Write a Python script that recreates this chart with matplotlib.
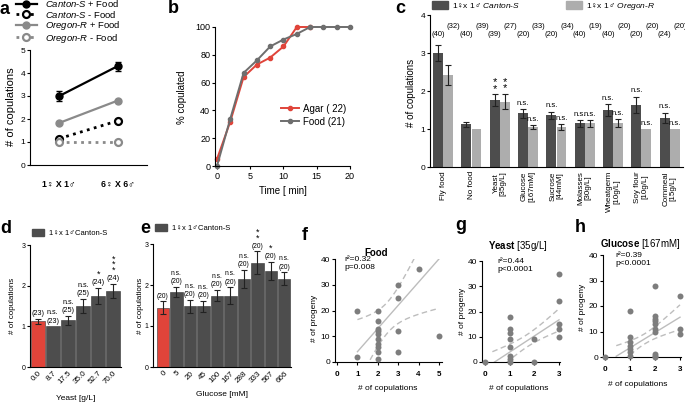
import numpy as np
import matplotlib
matplotlib.use('Agg')
import matplotlib.pyplot as plt
from matplotlib.lines import Line2D
from matplotlib.patches import Patch

plt.rcParams['font.family'] = ['Liberation Sans', 'DejaVu Sans']
plt.rcParams['mathtext.fontset'] = 'custom'
plt.rcParams['mathtext.rm'] = 'Liberation Sans'
plt.rcParams['mathtext.it'] = 'Liberation Sans:italic'
plt.rcParams['mathtext.bf'] = 'Liberation Sans:bold'
plt.rcParams['axes.linewidth'] = 0.8
plt.rcParams['xtick.major.size'] = 2.5
plt.rcParams['ytick.major.size'] = 2.5
plt.rcParams['xtick.major.width'] = 0.8
plt.rcParams['ytick.major.width'] = 0.8
plt.rcParams['xtick.major.pad'] = 1.5
plt.rcParams['ytick.major.pad'] = 1.0

# ---- data ----
# a: copulations per pairing
a_pairs = ['1♀ X 1♂', '6♀ X 6♂']
cs_food = [3.0, 4.3]
cs_food_err = [0.2, 0.2]
cs_nofood = [1.15, 1.92]
cs_nofood_err = [0.05, 0.05]
or_food = [1.83, 2.8]
or_food_err = [0.05, 0.05]
or_nofood = [1.0, 1.0]
or_nofood_err = [0.0, 0.0]

# b: % copulated over time
b_time = [0, 2, 4, 6, 8, 10, 12, 14, 16, 18, 20]
b_agar = [5, 32, 64, 73, 78, 86, 100, 100]
b_food = [0, 34, 67, 76, 86, 91, 95, 100, 100, 100, 100]

# c: food substrates
c_labels = ['Fly food', 'No food', 'Yeast\n[35g/L]', 'Glucose\n[167mM]', 'Sucrose\n[44mM]',
            'Molasses\n[30g/L]', 'Wheatgerm\n[10g/L]', 'Soy flour\n[10g/L]', 'Cornmeal\n[15g/L]']
c_cs = [3.0, 1.12, 1.76, 1.41, 1.36, 1.15, 1.49, 1.64, 1.29]
c_cs_err = [0.22, 0.07, 0.15, 0.11, 0.1, 0.09, 0.16, 0.21, 0.14]
c_or = [2.43, 1.0, 1.72, 1.05, 1.05, 1.15, 1.15, 1.0, 1.0]
c_or_err = [0.26, np.nan, 0.2, 0.05, 0.07, 0.09, 0.11, np.nan, np.nan]
c_cs_n = [40, 40, 39, 20, 20, 40, 40, 20, 24]
c_or_n = [32, 39, 27, 33, 34, 19, 20, 20, 20]
c_cs_sig = ['', '', '*\n*', 'n.s.', 'n.s.', 'n.s.', 'n.s.', 'n.s.', 'n.s.']
c_or_sig = ['', '', '*\n*', 'n.s.', 'n.s.', 'n.s.', 'n.s.', 'n.s.', 'n.s.']

# d: yeast concentration
d_labels = ['0.0', '8.7', '17.5', '35.0', '52.7', '70.0']
d_vals = [1.12, 1.0, 1.15, 1.5, 1.75, 1.87]
d_err = [0.07, np.nan, 0.11, 0.17, 0.19, 0.18]
d_n = [23, 23, 25, 25, 24, 24]
d_sig = ['', 'n.s.', 'n.s.', 'n.s.', '*', '*\n*\n*']

# e: glucose concentration
e_labels = ['0', '5', '20', '45', '100', '167', '288', '333', '567', '666']
e_vals = [1.45, 1.83, 1.48, 1.48, 1.74, 1.74, 2.15, 2.54, 2.34, 2.15]
e_err = [0.15, 0.12, 0.16, 0.13, 0.14, 0.2, 0.22, 0.28, 0.22, 0.16]
e_n = [20, 20, 20, 20, 20, 20, 20, 20, 20, 20]
e_sig = ['', 'n.s.', 'n.s.', 'n.s.', 'n.s.', 'n.s.', 'n.s.', '*\n*', '*', 'n.s.']

# f-h: progeny vs copulations
f_x = [1, 1, 2, 2, 2, 2, 2, 2, 2, 2, 2, 2, 3, 3, 3, 3, 4, 5]
f_y = [20, 2, 20, 16, 13, 12, 11, 9, 7, 6, 4, 1, 30, 25, 12, 4, 36, 10]
g_x = [0, 1, 1, 1, 1, 1, 1, 1, 1, 2, 2, 3, 3, 3, 3, 3]
g_y = [0, 18, 13, 11.5, 9, 6, 2.5, 1, 0, 9, 0, 35, 24, 15, 13, 10]
h_x = [0, 1, 1, 1, 1, 1, 1, 1, 2, 2, 2, 2, 2, 2, 2, 2, 2, 2, 3, 3, 3]
h_y = [0, 18, 8, 6, 4.5, 3, 2, 0.5, 28, 16, 15, 14, 13, 11, 10, 1, 0.5, 0, 24, 11, 9]
# linear fit: intercept, slope, x mean, band c0, band c1, x range
f_fit = [-5.0, 9.0, 2.5, 36.0, 53.0, 1.0, 5.0]
g_fit = [-2.5, 6.4, 1.7, 6.0, 8.0, 0.3, 3.0]
h_fit = [-2.4, 6.0, 1.6, 4.0, 10.0, 0.45, 3.0]
f_stats = 'r²=0.32\np=0.008'
g_stats = 'r²=0.44\np<0.0001'
h_stats = 'r²=0.39\np<0.0001'

W, H = 685, 405
fig = plt.figure(figsize=(6.85, 4.05), dpi=100)

DARK = '#4d4d4d'
LIGHT = '#adadad'
RED = '#e0443a'
PT = '#7d7d7d'
FIT = '#bdbdbd'


def add_ax(x0, y0, x1, y1):
    ax = fig.add_axes([x0 / W, 1 - y1 / H, (x1 - x0) / W, (y1 - y0) / H])
    ax.spines['top'].set_visible(False)
    ax.spines['right'].set_visible(False)
    return ax


def ftext(x, y, s, **kw):
    return fig.text(x / W, 1 - y / H, s, **kw)


def letter(x, y, s):
    ftext(x, y, s, fontsize=13, fontweight='bold', va='baseline', ha='left')


# ---- a ----
ax = add_ax(30, 50, 147, 165)
xa = np.arange(2)
ax.errorbar(xa, cs_food, yerr=cs_food_err, color='k', lw=1.6, marker='o', ms=5,
            capsize=2.5, elinewidth=1, capthick=1, clip_on=False)
ax.errorbar(xa, cs_nofood, yerr=cs_nofood_err, color='k', lw=2, ls=(0, (1, 1.6)), marker='o', ms=5,
            mfc='white', mew=1.6, capsize=0, clip_on=False)
ax.errorbar(xa, or_food, yerr=or_food_err, color='#8a8a8a', lw=1.6, marker='o', ms=5,
            capsize=0, clip_on=False)
ax.errorbar(xa, or_nofood, yerr=or_nofood_err, color='#8a8a8a', lw=2, ls=(0, (1, 1.6)), marker='o',
            ms=5, mfc='white', mew=1.6, capsize=0, clip_on=False)
ax.set_xlim(-0.5, 1.5)
ax.set_ylim(0, 5)
ax.set_yticks(range(6))
ax.set_xticks(xa)
ax.set_xticklabels(a_pairs, fontsize=6.3, fontweight='bold')
ax.tick_params(axis='x', length=0, pad=11)
ax.tick_params(axis='y', labelsize=6)
ftext(11, 107, '# of copulations', fontsize=8, rotation=90, ha='center', va='center')
leg_handles = [
    Line2D([], [], color='k', lw=1.6, marker='o', ms=5),
    Line2D([], [], color='k', lw=2, ls=(0, (1, 1.6)), marker='o', ms=5, mfc='white', mew=1.6),
    Line2D([], [], color='#8a8a8a', lw=1.6, marker='o', ms=5),
    Line2D([], [], color='#8a8a8a', lw=2, ls=(0, (1, 1.6)), marker='o', ms=5, mfc='white', mew=1.6),
]
leg_labels = [r'$\it{Canton}$-$\it{S}$ + Food', r'$\it{Canton}$-$\it{S}$ - Food',
              r'$\it{Oregon}$-$\it{R}$ + Food', r'$\it{Oregon}$-$\it{R}$ - Food']
fig.legend(leg_handles, leg_labels, loc='upper left', bbox_to_anchor=(16 / W, 1.0 + 2 / H),
           frameon=False, fontsize=6.8, handlelength=2.2, handletextpad=0.9,
           labelspacing=-0.05, borderpad=0, borderaxespad=0)
letter(0, 14, 'a')

# ---- b ----
ax = add_ax(215, 27, 350, 166)
ax.plot(b_time[:len(b_agar)], b_agar, color=RED, lw=1.4, marker='o', ms=3, clip_on=False,
        label='Agar ( 22)')
ax.plot(b_time, b_food, color='#6e6e6e', lw=1.4, marker='o', ms=3, clip_on=False,
        label='Food (21)')
ax.set_xlim(-0.3, 20)
ax.set_ylim(0, 100)
ax.set_xticks([0, 5, 10, 15, 20])
ax.set_yticks([0, 20, 40, 60, 80, 100])
ax.tick_params(labelsize=6.5)
ax.legend(loc='lower right', bbox_to_anchor=(1.04, 0.22), frameon=False, fontsize=7,
          handlelength=1.8, handletextpad=0.5, labelspacing=0.3)
ftext(182, 97, '% copulated', fontsize=7, rotation=90, ha='center', va='center')
ftext(283, 191, 'Time [ min]', fontsize=7, ha='center', va='center')
letter(168, 13, 'b')

# ---- c ----
ax = add_ax(430, 15, 683, 167)
xc = np.arange(len(c_labels))
ekw = dict(lw=0.8, capsize=2.2, capthick=0.8, ecolor='#222222')
ax.bar(xc - 0.18, c_cs, 0.35, yerr=c_cs_err, color=DARK, error_kw=ekw)
ax.bar(xc + 0.18, c_or, 0.35, yerr=c_or_err, color=LIGHT, error_kw=ekw)
for i in range(len(c_labels)):
    ax.text(xc[i] - 0.18, 3.5, f'({c_cs_n[i]})', fontsize=5.5, ha='center', va='center')
    ax.text(xc[i] + 0.38, 3.7, f'({c_or_n[i]})', fontsize=5.5, ha='center', va='center')
    for xx, v, e, s in [(xc[i] - 0.18, c_cs[i], c_cs_err[i], c_cs_sig[i]),
                        (xc[i] + 0.18, c_or[i], c_or_err[i], c_or_sig[i])]:
        if not s:
            continue
        top = v + (0 if np.isnan(e) else e)
        if '*' in s:
            ax.text(xx, top + 0.02, s, fontsize=8, ha='center', va='bottom', linespacing=0.55)
        else:
            ax.text(xx, top + 0.06, s, fontsize=5.5, ha='center', va='bottom')
ax.set_xlim(-0.46, 8.47)
ax.set_ylim(0, 4)
ax.set_yticks(range(5))
ax.set_xticks(xc)
ax.set_xticklabels(c_labels, rotation=90, fontsize=5.8, linespacing=1.0)
ax.tick_params(axis='x', length=0, pad=3)
ax.tick_params(axis='y', labelsize=6)
ftext(411, 93, '# of copulations', fontsize=7, rotation=90, ha='center', va='center')
fig.legend([Patch(color=DARK), Patch(color=LIGHT)],
           [r'1♀x 1♂ $\it{Canton}$-$\it{S}$', r'1♀x 1♂ $\it{Oregon}$-$\it{R}$'],
           loc='upper left', bbox_to_anchor=(432 / W, 1 - 1 / H), ncol=2, frameon=False,
           fontsize=6, handlelength=1.9, handleheight=1.1, handletextpad=0.5,
           columnspacing=5.5, borderpad=0, borderaxespad=0)
letter(395, 13, 'c')


def conc_panel(ax, vals, err, n, sig, labels, fs_n):
    xx = np.arange(len(vals))
    colors = [RED] + [DARK] * (len(vals) - 1)
    ax.bar(xx, vals, 0.92, yerr=err, color=colors, edgecolor='#333333', linewidth=0.4,
           error_kw=dict(lw=0.8, capsize=2.2, capthick=0.8, ecolor='#222222'))
    for i in range(len(vals)):
        top = vals[i] + (0 if np.isnan(err[i]) else err[i])
        ax.text(xx[i], top + 0.04, f'({n[i]})', fontsize=fs_n, ha='center', va='bottom')
        if sig[i] == '':
            continue
        if '*' in sig[i]:
            ax.text(xx[i], top + 0.22, sig[i], fontsize=6.5, ha='center', va='bottom',
                    linespacing=0.5)
        else:
            ax.text(xx[i], top + 0.25, sig[i], fontsize=fs_n, ha='center', va='bottom')
    ax.set_ylim(0, 3)
    ax.set_yticks([0, 1, 2, 3])
    ax.set_xticks(xx)
    ax.set_xticklabels(labels, rotation=45, ha='right', rotation_mode='anchor', fontsize=5.8)
    ax.tick_params(axis='x', length=0, pad=2)
    ax.tick_params(axis='y', labelsize=5, length=2)


# ---- d ----
ax = add_ax(30, 245, 121, 367)
conc_panel(ax, d_vals, d_err, d_n, d_sig, d_labels, 5.2)
ax.set_xlim(-0.5, 5.5)
ftext(12, 306, '# of copulations', fontsize=5.8, rotation=90, ha='center', va='center')
ftext(76, 399, 'Yeast [g/L]', fontsize=6, ha='center', va='center')
fig.legend([Patch(color=DARK)], ['1♀x 1♂Canton-S'], loc='center left',
           bbox_to_anchor=(32 / W, 1 - 233 / H), frameon=False, fontsize=5.5,
           handlelength=1.6, handleheight=1.0, handletextpad=0.6, borderpad=0, borderaxespad=0)
letter(0, 233, 'd')

# ---- e ----
ax = add_ax(153, 244, 291, 367)
conc_panel(ax, e_vals, e_err, e_n, e_sig, e_labels, 4.8)
ax.set_xlim(-0.74, 9.5)
ftext(141, 306, '# of copulations', fontsize=5.8, rotation=90, ha='center', va='center')
ftext(222, 395, 'Glucose [mM]', fontsize=6, ha='center', va='center')
fig.legend([Patch(color=DARK)], ['1♀x 1♂Canton-S'], loc='center left',
           bbox_to_anchor=(155 / W, 1 - 228 / H), frameon=False, fontsize=5.5,
           handlelength=1.6, handleheight=1.0, handletextpad=0.6, borderpad=0, borderaxespad=0)
letter(140, 233, 'e')


def scatter_panel(ax, xs, ys, fit, stats, xmax, txt_x):
    a, b, xm, c0, c1, x0, x1 = fit
    xf = np.linspace(x0, x1, 60)
    yf = a + b * xf
    hw = np.sqrt(c0 + c1 * (xf - xm) ** 2)
    ax.plot(xf, yf, color=FIT, lw=1.0)
    ax.plot(xf, yf + hw, color=FIT, lw=1.0, dashes=(4, 2.5))
    ax.plot(xf, yf - hw, color=FIT, lw=1.0, dashes=(4, 2.5))
    ax.plot(xs, ys, 'o', color=PT, ms=4.3, mew=0, clip_on=False, zorder=3)
    ax.set_ylim(0, 40)
    ax.set_yticks([0, 10, 20, 30, 40])
    ax.set_xticks(range(xmax + 1))
    ax.tick_params(axis='x', labelsize=5.8, pad=4)
    for t in ax.get_xticklabels():
        t.set_fontweight('bold')
    ax.tick_params(axis='y', labelsize=6)
    ax.text(txt_x, 41, stats, fontsize=6, ha='left', va='top', linespacing=1.1)


# ---- f ----
ax = add_ax(335, 259, 442, 362)
scatter_panel(ax, f_x, f_y, f_fit, f_stats, 5, 0.35)
ax.set_xlim(-0.1, 5.15)
ftext(376, 253, 'Food', fontsize=7, fontweight='bold', ha='center', va='center')
ftext(315, 318, '# of progeny', fontsize=6, rotation=90, ha='center', va='center')
ftext(388, 388, '# of copulations', fontsize=6, ha='center', va='center')
letter(302, 240, 'f')

# ---- g ----
ax = add_ax(482, 261, 560, 362)
scatter_panel(ax, g_x, g_y, g_fit, g_stats, 3, 0.5)
ax.set_xlim(-0.12, 3.04)
ftext(518, 246, r'$\bf{Yeast}$ [35g/L]', fontsize=7, ha='center', va='center')
ftext(463, 311, '# of progeny', fontsize=6, rotation=90, ha='center', va='center')
ftext(519, 388, '# of copulations', fontsize=6, ha='center', va='center')
letter(455, 230, 'g')

# ---- h ----
ax = add_ax(603, 255, 681, 357)
scatter_panel(ax, h_x, h_y, h_fit, h_stats, 3, 0.4)
ax.set_xlim(-0.08, 3.04)
ftext(640, 244, r'$\bf{Glucose}$ [167mM]', fontsize=7, ha='center', va='center')
ftext(582, 307, '# of progeny', fontsize=6, rotation=90, ha='center', va='center')
ftext(638, 384, '# of copulations', fontsize=6, ha='center', va='center')
letter(575, 232, 'h')

fig.savefig('out.png', dpi=100)
